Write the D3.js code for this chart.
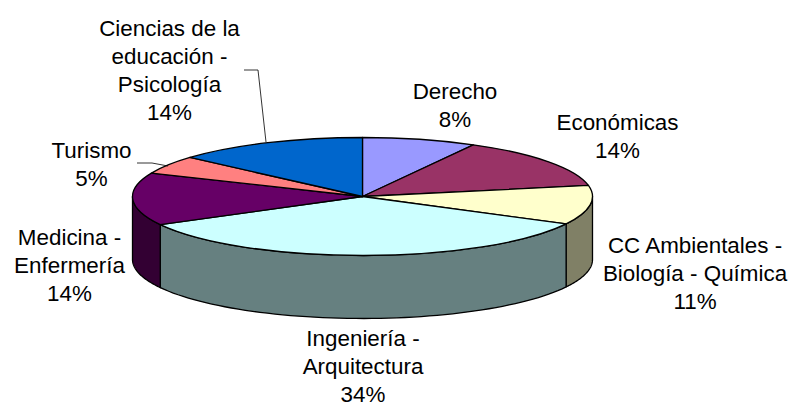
<!DOCTYPE html>
<html><head><meta charset="utf-8">
<script src="https://cdn.jsdelivr.net/npm/d3@7"></script>
<style>html,body{margin:0;background:#fff}svg{display:block}text{font-family:"Liberation Sans",Arial,sans-serif;font-size:22.4px;fill:#000;text-anchor:middle}</style>
</head><body><svg width="789" height="403"></svg>
<script>
const categories=["Derecho","Económicas","CC Ambientales - Biología - Química","Ingeniería - Arquitectura","Medicina - Enfermería","Turismo","Ciencias de la educación - Psicología"];
const values=[8.0,14.0,10.7,34.4,14.4,5.0,13.5];
const topColors=["#9999FF","#993366","#FFFFCC","#CCFFFF","#660066","#FF8080","#0066CC"];
const sideColors=["#4D4D80","#4D1A33","#808066","#668080","#330033","#804040","#003366"];
const labelLines=[["Derecho"],["Económicas"],["CC Ambientales -","Biología - Química"],["Ingeniería -","Arquitectura"],["Medicina -","Enfermería"],["Turismo"],["Ciencias de la","educación -","Psicología"]];
const labelBaselines=[[455,99],[617.5,129.5],[695,252.5],[363,345.5],[69.5,245],[91.5,158],[169.5,36]];
const leaders=[[[244,70],[258,70],[266,142]],[[137,163],[152,163],[168,166]]];

const cx=362.5,cy=196.5,rx=230,ry=59,depth=63,lineH=28;
const svg=d3.select("svg");
const arcs=d3.pie().sort(null).value(d=>d)(values);
const px=a=>cx+rx*Math.sin(a), py=a=>cy-ry*Math.cos(a);

const sideG=svg.append("g");
arcs.forEach((s,i)=>{
  const a0=Math.max(s.startAngle,Math.PI/2), a1=Math.min(s.endAngle,3*Math.PI/2);
  if(a1<=a0) return;
  const steps=d3.range(0,61).map(k=>a0+(a1-a0)*k/60);
  const pts=steps.map(a=>[px(a),py(a)]);
  const low=steps.slice().reverse().map(a=>[px(a),py(a)+depth]);
  sideG.append("path").attr("d",d3.line()(pts.concat(low))+"Z")
    .attr("fill",sideColors[i]).attr("stroke","#000").attr("stroke-width",1.3).attr("stroke-linejoin","round");
});

const arcGen=d3.arc().innerRadius(0).outerRadius(rx);
svg.append("g").attr("transform",`translate(${cx},${cy}) scale(1,${ry/rx})`)
  .selectAll("path").data(arcs).join("path")
  .attr("d",arcGen).attr("fill",(d,i)=>topColors[i])
  .attr("stroke","#000").attr("stroke-width",1.3).attr("vector-effect","non-scaling-stroke").attr("stroke-linejoin","round");

svg.append("g").selectAll("path").data(leaders).join("path")
  .attr("d",d3.line()).attr("fill","none").attr("stroke","#000").attr("stroke-width",0.8);

const lab=svg.append("g");
labelLines.forEach((lines,i)=>{
  const all=lines.concat([Math.round(values[i])+"%"]);
  const t=lab.append("text");
  all.forEach((l,k)=>t.append("tspan").attr("x",labelBaselines[i][0]).attr("y",labelBaselines[i][1]+k*lineH).text(l));
});
</script></body></html>
